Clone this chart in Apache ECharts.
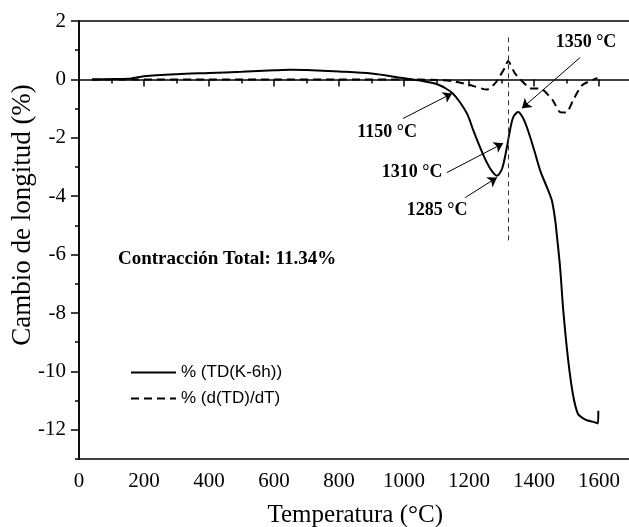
<!DOCTYPE html>
<html>
<head>
<meta charset="utf-8">
<script src="https://cdn.jsdelivr.net/npm/echarts@6/dist/echarts.min.js"></script>
<style>
  html, body { margin: 0; padding: 0; background: #fff; }
  #chart { width: 629px; height: 527px; }
</style>
</head>
<body>
<div id="chart"></div>
<script>
// curva de contracción (TD K-6h)
const tempTD = [40, 100, 150, 200, 300, 400, 500, 600, 650, 700, 800, 900, 1000, 1050, 1100, 1130, 1150, 1170, 1195, 1215, 1235, 1255, 1270, 1286, 1302, 1317, 1326, 1336, 1351, 1365, 1380, 1400, 1420, 1440, 1455, 1465, 1470, 1480, 1490, 1505, 1520, 1535, 1550, 1565, 1580, 1597, 1598];
const valTD = [0, 0.01, 0.02, 0.11, 0.18, 0.22, 0.26, 0.31, 0.33, 0.32, 0.27, 0.2, 0.04, -0.04, -0.16, -0.32, -0.48, -0.75, -1.2, -1.8, -2.35, -2.85, -3.13, -3.3, -3.05, -2.3, -1.75, -1.3, -1.12, -1.3, -1.7, -2.4, -3.15, -3.7, -4.15, -4.8, -5.3, -6.4, -7.9, -9.6, -10.8, -11.45, -11.6, -11.68, -11.72, -11.78, -11.35];

// derivada d(TD)/dT
const tempDer = [40, 200, 400, 600, 800, 1000, 1100, 1150, 1200, 1255, 1280, 1311, 1320, 1342, 1388, 1424, 1458, 1480, 1500, 1520, 1548, 1595];
const valDer = [0, 0, 0, 0, 0, 0, -0.02, -0.06, -0.18, -0.35, -0.14, 0.41, 0.63, 0.2, -0.3, -0.33, -0.72, -1.12, -1.13, -0.72, -0.2, 0.05];

const xMajor = [0, 200, 400, 600, 800, 1000, 1200, 1400, 1600];
const xMinor = [100, 300, 500, 700, 900, 1100, 1300, 1500, 1700];
const yMajor = [2, 0, -2, -4, -6, -8, -10, -12];
const yMinor = [1, -1, -3, -5, -7, -9, -11, -13];

// anotaciones: [texto, x, y]
const notes = [
  ['1350 °C', 1560, 1.27],
  ['1150 °C', 948, -1.82],
  ['1310 °C', 1025, -3.19],
  ['1285 °C', 1102, -4.49]
];
// flechas: [x0, y0, x1, y1]
const arrows = [
  [997, -1.34, 1148, -0.48],
  [1132, -3.19, 1305, -2.19],
  [1188, -4.05, 1286, -3.36],
  [1542, 0.75, 1363, -0.99]
];
const vLineT = 1320;

const serif = '"Liberation Serif", "Times New Roman", serif';
const sans = '"Liberation Sans", Arial, sans-serif';

const chart = echarts.init(document.getElementById('chart'));

const zip = (xs, ys) => xs.map((x, i) => [x, ys[i]]);
const plain = v => String(v);

chart.setOption({
  animation: false,
  backgroundColor: '#fff',
  grid: {
    left: 79, top: 21, right: -2.5, bottom: 68,
    outerBoundsMode: 'none', containLabel: false,
    show: true, borderColor: '#000', borderWidth: 1.5
  },
  legend: {
    left: 125, top: 359,
    orient: 'vertical',
    itemWidth: 45, itemHeight: 14, itemGap: 9,
    itemStyle: { opacity: 0 },
    textStyle: { fontFamily: sans, fontSize: 17, color: '#000' },
    data: ['% (TD(K-6h))', '% (d(TD)/dT)']
  },
  xAxis: [
    {
      type: 'value', min: 0, max: 1700,
      name: 'Temperatura (°C)', nameLocation: 'middle', nameGap: 44,
      nameMoveOverlap: false,
      nameTextStyle: { fontFamily: serif, fontSize: 25, color: '#000' },
      axisLine: { lineStyle: { color: '#000', width: 1.5 } },
      axisTick: { customValues: xMajor, length: 7, lineStyle: { color: '#000', width: 1.5 } },
      axisLabel: { customValues: xMajor, formatter: plain, margin: 12, fontFamily: serif, fontSize: 21, color: '#000' },
      splitLine: { show: false }
    },
    {
      type: 'value', min: 0, max: 1700, position: 'bottom',
      axisLine: { show: false },
      axisTick: { customValues: xMinor, length: 4, lineStyle: { color: '#000', width: 1.5 } },
      axisLabel: { show: false },
      splitLine: { show: false }
    }
  ],
  yAxis: [
    {
      type: 'value', min: -13, max: 2,
      name: 'Cambio de longitud (%)', nameLocation: 'middle', nameGap: 43,
      nameMoveOverlap: false,
      nameTextStyle: { fontFamily: serif, fontSize: 27, color: '#000', padding: [0, 0, 0, 50] },
      axisLine: { lineStyle: { color: '#000', width: 1.5 } },
      axisTick: { customValues: yMajor, length: 8, lineStyle: { color: '#000', width: 1.5 } },
      axisLabel: { customValues: yMajor, formatter: plain, margin: 13, fontFamily: serif, fontSize: 21, color: '#000' },
      splitLine: { show: false }
    },
    {
      type: 'value', min: -13, max: 2, position: 'left',
      axisLine: { show: false },
      axisTick: { customValues: yMinor, length: 4, lineStyle: { color: '#000', width: 1.5 } },
      axisLabel: { show: false },
      splitLine: { show: false }
    }
  ],
  series: [
    {
      name: '% (TD(K-6h))',
      type: 'line',
      symbol: 'none',
      smooth: 0.3,
      data: zip(tempTD, valTD),
      lineStyle: { color: '#000', width: 2 },
      itemStyle: { color: '#000' },
      markLine: {
        silent: true,
        symbol: ['none', 'arrow'],
        symbolSize: 9,
        label: { show: false },
        lineStyle: { color: '#000', width: 1, type: 'solid' },
        data: arrows.map(a => [{ coord: [a[0], a[1]] }, { coord: [a[2], a[3]] }])
      },
      markPoint: {
        silent: true,
        symbol: 'circle',
        symbolSize: 0,
        label: {
          show: true, position: 'inside',
          fontFamily: serif, fontWeight: 'bold', fontSize: 18, color: '#000',
          formatter: p => p.name
        },
        data: notes.map(n => ({ name: n[0], coord: [n[1], n[2]] })).concat([{
          name: 'Contracción Total: 11.34%', coord: [120, -6.14],
          label: { align: 'left', fontSize: 19 }
        }])
      }
    },
    {
      name: '% (d(TD)/dT)',
      type: 'line',
      symbol: 'none',
      smooth: 0.2,
      data: zip(tempDer, valDer),
      lineStyle: { color: '#000', width: 2, type: [8, 5] },
      itemStyle: { color: '#000' },
      markLine: {
        silent: true,
        symbol: ['none', 'none'],
        label: { show: false },
        lineStyle: { color: '#333', width: 1, type: [5, 4] },
        data: [[{ coord: [vLineT, 1.44] }, { coord: [vLineT, -5.62] }]]
      }
    }
  ]
});
</script>
</body>
</html>
